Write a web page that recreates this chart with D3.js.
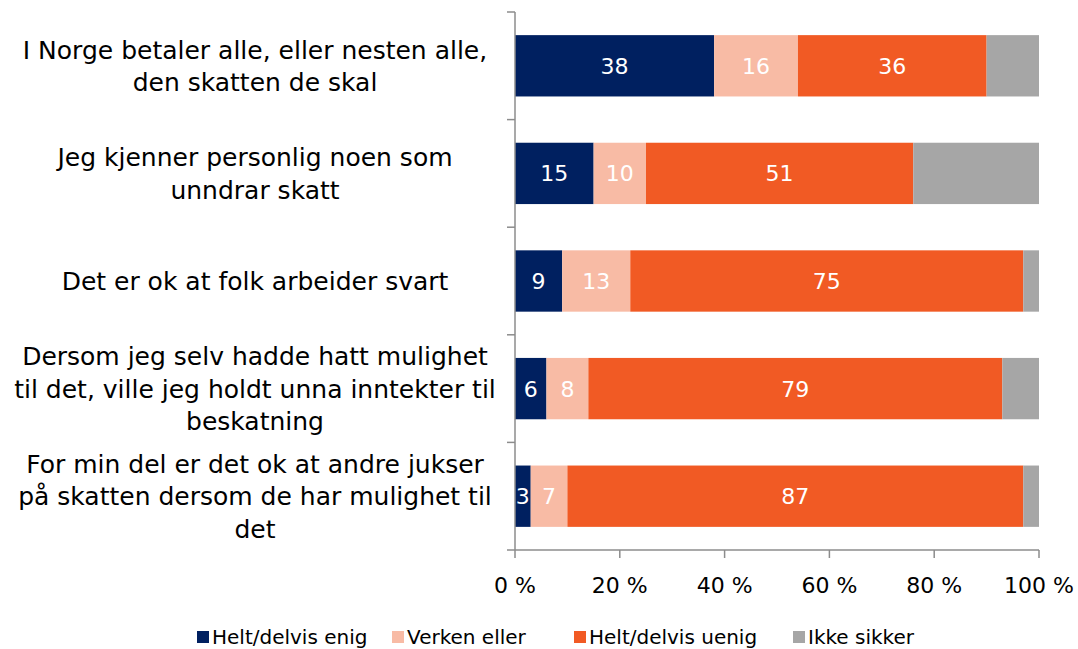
<!DOCTYPE html>
<html>
<head>
<meta charset="UTF-8">
<title>Skatt</title>
<style>
  *{margin:0;padding:0;}
  body{background:#fff;}
  svg{display:block;}
  text{font-family:"DejaVu Sans", sans-serif;}
</style>
</head>
<body>
<svg id="chart" width="1078" height="649"></svg>
<script src="https://cdn.jsdelivr.net/npm/d3@7/dist/d3.min.js"></script>
<script>
// data
var categories = [
  ["I Norge betaler alle, eller nesten alle,", "den skatten de skal"],
  ["Jeg kjenner personlig noen som", "unndrar skatt"],
  ["Det er ok at folk arbeider svart"],
  ["Dersom jeg selv hadde hatt mulighet", "til det, ville jeg holdt unna inntekter til", "beskatning"],
  ["For min del er det ok at andre jukser", "på skatten dersom de har mulighet til", "det"]
];
var seriesNames = ["Helt/delvis enig", "Verken eller", "Helt/delvis uenig", "Ikke sikker"];
var enig   = [38, 15, 9, 6, 3];
var verken = [16, 10, 13, 8, 7];
var uenig  = [36, 51, 75, 79, 87];
var ikke   = [10, 24, 3, 7, 3];
var xTicks = [0, 20, 40, 60, 80, 100];
var colors = ["#002060", "#F8BBA5", "#F15A24", "#A6A6A6"];

var svg = d3.select("#chart");
var mLeft = 515, mRight = 1039, mTop = 12, mBottom = 550;

var x = d3.scaleLinear().domain([0, 100]).range([mLeft, mRight]);
var y = d3.scaleBand().domain(d3.range(categories.length)).range([mTop, mBottom])
    .paddingInner(0.43).paddingOuter(0.215);

var rows = categories.map(function(c, i){
  return {i: i, vals: [enig[i], verken[i], uenig[i], ikke[i]]};
});
var stack = d3.stack().keys([0,1,2,3]).value(function(d, k){ return d.vals[k]; });
var layers = stack(rows);

var g = svg.append("g");
layers.forEach(function(layer, k){
  g.selectAll(".s" + k).data(layer).enter().append("rect")
    .attr("x", function(d){ return x(d[0]); })
    .attr("y", function(d){ return y(d.data.i); })
    .attr("width", function(d){ return x(d[1]) - x(d[0]); })
    .attr("height", y.bandwidth())
    .attr("fill", colors[k]);
  if (k < 3) {
    g.selectAll(".l" + k).data(layer).enter().append("text")
      .attr("x", function(d){ return (x(d[0]) + x(d[1])) / 2; })
      .attr("y", function(d){ return y(d.data.i) + y.bandwidth() / 2; })
      .attr("dy", "0.36em")
      .attr("text-anchor", "middle")
      .attr("fill", "#fff")
      .style("font-size", "22px")
      .text(function(d){ return d.data.vals[k]; });
  }
});

// axes
var axisColor = "#8C8C8C";
svg.append("line").attr("x1", mLeft).attr("x2", mLeft).attr("y1", mTop).attr("y2", mBottom)
  .attr("stroke", axisColor).attr("stroke-width", 1.5);
var bounds = d3.range(categories.length + 1).map(function(i){ return mTop + i * y.step(); });
svg.selectAll(".yt").data(bounds).enter().append("line")
  .attr("x1", mLeft - 8).attr("x2", mLeft).attr("y1", function(d){ return d; }).attr("y2", function(d){ return d; })
  .attr("stroke", axisColor).attr("stroke-width", 1.5);

svg.append("line").attr("x1", mLeft).attr("x2", mRight).attr("y1", mBottom).attr("y2", mBottom)
  .attr("stroke", axisColor).attr("stroke-width", 1.5);
svg.selectAll(".xt").data(xTicks).enter().append("line")
  .attr("x1", function(d){ return x(d); }).attr("x2", function(d){ return x(d); })
  .attr("y1", mBottom).attr("y2", mBottom + 8)
  .attr("stroke", axisColor).attr("stroke-width", 1.5);
svg.selectAll(".xl").data(xTicks).enter().append("text")
  .attr("x", function(d){ return x(d); })
  .attr("y", 585)
  .attr("dy", "0.36em")
  .attr("text-anchor", "middle")
  .attr("fill", "#000")
  .style("font-size", "22px")
  .text(function(d){ return d + " %"; });

// category labels
var lineH = 32.5;
categories.forEach(function(lines, i){
  var cy = y(i) + y.bandwidth() / 2;
  var t = svg.append("text")
    .attr("text-anchor", "middle")
    .attr("fill", "#000")
    .style("font-size", "25px");
  lines.forEach(function(s, j){
    t.append("tspan").attr("x", 255)
      .attr("y", cy + (j - (lines.length - 1) / 2) * lineH)
      .attr("dy", "0.36em")
      .text(s);
  });
});

// legend
var legendX = [197, 392, 574, 793];
var lg = svg.selectAll(".lg").data(seriesNames).enter().append("g")
  .attr("transform", function(d, i){ return "translate(" + legendX[i] + ",631)"; });
lg.append("rect").attr("width", 12).attr("height", 12).attr("fill", function(d, i){ return colors[i]; });
lg.append("text").attr("x", 15).attr("y", 6).attr("dy", "0.36em")
  .style("font-size", "20px").attr("fill", "#000")
  .text(function(d){ return d; });
</script>
</body>
</html>
